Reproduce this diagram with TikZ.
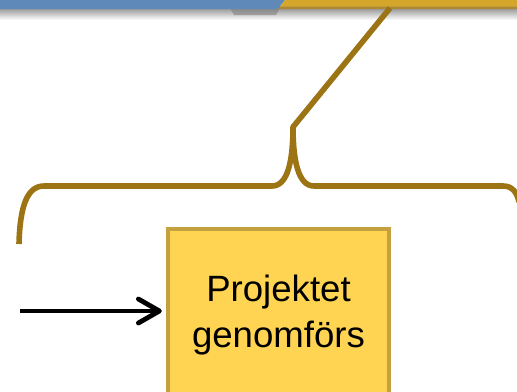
\documentclass[tikz,border=0pt]{standalone}
\usepackage{fontspec}
\setmainfont{Liberation Sans}
\usetikzlibrary{arrows.meta}

\definecolor{barblue}{HTML}{5E89B8}
\definecolor{bargold}{HTML}{D4A72C}
\definecolor{bracegold}{HTML}{9C7414}
\definecolor{boxfill}{HTML}{FED452}
\definecolor{boxline}{HTML}{C4A03E}

\newcommand{\pxscl}{0.5pt}
\newcommand{\yn}{\node[draw=boxline, line width=2.2pt, fill=boxfill, inner sep=0pt,
    minimum width=110.5pt, minimum height=86.5pt, align=center,
    font=\fontsize{18.3}{23}\selectfont]}

\begin{document}
\begin{tikzpicture}[x=\pxscl, y=-\pxscl]
            \useasboundingbox (0,0) rectangle (517,391);

            % bars at the top, with their shadow
            \shade[top color=black!45, bottom color=white] (0,7) rectangle (517,20);
            \fill[black!50, opacity=0.6] (230,8) -- (280,8) -- (276,15) -- (234,15) -- cycle;
            \fill[barblue] (0,0) -- (285,0) -- (278,9) -- (0,9) -- cycle;
            \fill[bargold] (285,0) -- (517,0) -- (517,8) -- (279,8) -- cycle;
            \fill[bracegold!85] (280,6.5) -- (517,6.5) -- (517,9) -- (278,9) -- cycle;

            \yn (gen) at (278.5,315.5) {Projektet\\genomförs};

            \coordinate (root) at (390,8);
            \coordinate (tip) at (293,127);
            \coordinate (lend) at (19,244);
            \coordinate (rend) at (519,202);
            \coordinate (in) at (20,311);

            \draw[bracegold, line width=2.8pt] (root) -- (tip);

            \draw[bracegold, line width=2.8pt, line join=round]
                (lend) .. controls (20,204) and (28,186) .. (44,186)
                -- (272,186) .. controls (288,186) and (293,160) .. (tip)
                .. controls (293,160) and (298,186) .. (314,186)
                -- (503,186) .. controls (512,186) and (517,192) .. (rend)
                ;

            \draw[line width=2.4pt, -{Straight Barb[length=10.5pt, width=12pt, line cap=round, line join=round]}, shorten >=2pt]
                (in) -- (in -| gen.west)
                ;
\end{tikzpicture}
\end{document}
